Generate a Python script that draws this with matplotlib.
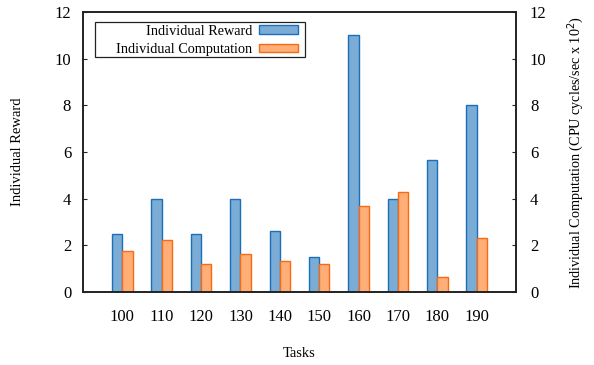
import numpy as np
import matplotlib
matplotlib.use('Agg')
import matplotlib.pyplot as plt
from matplotlib.patches import Rectangle

plt.rcParams['font.family'] = 'Liberation Serif'
plt.rcParams['font.size'] = 10.5

# task counts and the per-task values for both series
tasks = ['100', '110', '120', '130', '140', '150', '160', '170', '180', '190']
reward = [2.5, 4.0, 2.5, 4.0, 2.6, 1.5, 11.0, 4.0, 5.65, 8.0]
computation = [1.74, 2.21, 1.18, 1.64, 1.35, 1.2, 3.67, 4.27, 0.63, 2.3]

x = np.arange(len(tasks))
w = 0.26

fig = plt.figure(figsize=(5.94, 3.65), dpi=100)
ax = fig.add_axes([0.1397, 0.2, 0.729, 0.767])
ax2 = ax.twinx()

ax.bar(x - w / 2, reward, w, color='#7aacd6', edgecolor='#1a6fb8',
       linewidth=1.0, label='Individual Reward')
ax.bar(x + w / 2, computation, w, color='#ffae78', edgecolor='#f96a12',
       linewidth=1.0, label='Individual Computation')

ax.set_xlim(-1, len(tasks))
ax.set_ylim(0, 12)
ax2.set_ylim(0, 12)
ax.set_yticks(range(0, 13, 2))
ax2.set_yticks(range(0, 13, 2))
ax.set_xticks(x)
ax.set_xticklabels(tasks)

ax.tick_params(axis='x', length=0, pad=12, labelsize=12)
ax.tick_params(axis='y', direction='in', length=3, pad=8.5, color='#222222',
               labelsize=12)
ax2.tick_params(axis='y', direction='in', length=3, pad=10, color='#222222',
                labelsize=12)

for a in (ax, ax2):
    for s in a.spines.values():
        s.set_color('#222222')
        s.set_linewidth(1.2)

ax.set_xlabel('Tasks', labelpad=16)
ax.set_ylabel('Individual Reward', labelpad=22)
ax2.set_ylabel('Individual Computation (CPU cycles/sec x 10$^2$)',
               labelpad=13, fontsize=10.2)

# legend box is wider than its contents, so the frame is drawn separately
ax.add_patch(Rectangle((0.0277, 0.839), 0.485, 0.126, transform=ax.transAxes,
                       facecolor='white', edgecolor='#222222', linewidth=0.9,
                       zorder=4))
leg = ax.legend(loc='upper right', bbox_to_anchor=(0.4965, 0.955),
                borderaxespad=0, borderpad=0, markerfirst=False,
                frameon=False, handlelength=2.73, handleheight=0.55,
                labelspacing=0.38, handletextpad=0.49, fontsize=10.3)
leg.set_zorder(5)

fig.savefig('out.png', dpi=100)
